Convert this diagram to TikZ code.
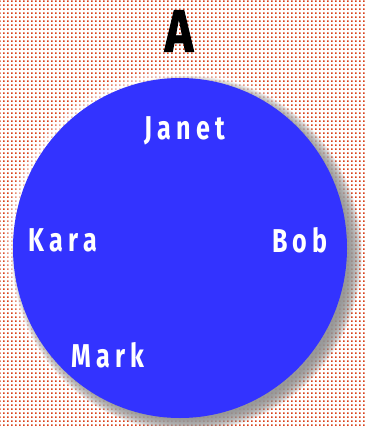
\documentclass[tikz,border=0pt]{standalone}
\usepackage{fontspec}
\usepackage{tikz}
\usetikzlibrary{patterns,positioning}
\newfontfamily\namefont[FakeStretch=0.76,LetterSpace=16]{Fira Sans}
\newfontfamily\titlefont[FakeStretch=0.8,FakeBold=1.5]{Fira Sans}
\definecolor{DotRed}{HTML}{D8401A}
\definecolor{GroupBlue}{HTML}{3333FF}
\definecolor{HaloGray}{HTML}{8C8C8C}
\pgfdeclarepatternformonly{pixdots}{\pgfqpoint{0pt}{0pt}}{\pgfqpoint{4pt}{4pt}}{\pgfqpoint{4pt}{4pt}}{%
  \pgfpathrectangle{\pgfqpoint{0pt}{0pt}}{\pgfqpoint{2pt}{2pt}}\pgfusepath{fill}}
\tikzset{
  backdrop/.style={pattern=pixdots,pattern color=DotRed},
  member/.style={text=white,inner sep=0pt,font=\namefont\bfseries\fontsize{33}{33}\selectfont},
  heading/.style={text=black,inner sep=0pt,font=\titlefont\bfseries\fontsize{60}{60}\selectfont}
}

\begin{document}
\begin{tikzpicture}[x=1pt,y=-1pt]
  \useasboundingbox (0,0) rectangle (365,426);
  \fill[white] (0,0) rectangle (365,426);
  \fill[backdrop] (0,0) rectangle (365,426);
  % soft halo and shadow
  \foreach \i in {0,...,9}
    \fill[white,opacity=0.10] (180,248) ellipse [x radius=177-\i, y radius=180-\i];
  \foreach \i in {0,...,13}
    \fill[HaloGray,opacity=0.13] (187,254) ellipse [x radius=175-\i, y radius=178-\i];
  \fill[GroupBlue] (180,248) ellipse [x radius=167, y radius=170];
  \node[heading] (title) at (179,31) {A};
  \node[member] (janet) at (185,131) {Janet};
  \node[member] (kara) at (63,240) {Kara};
  \node[member] (bob) at (300,240) {Bob};
  \node[member] (mark) at (108,355) {Mark};
\end{tikzpicture}
\end{document}
